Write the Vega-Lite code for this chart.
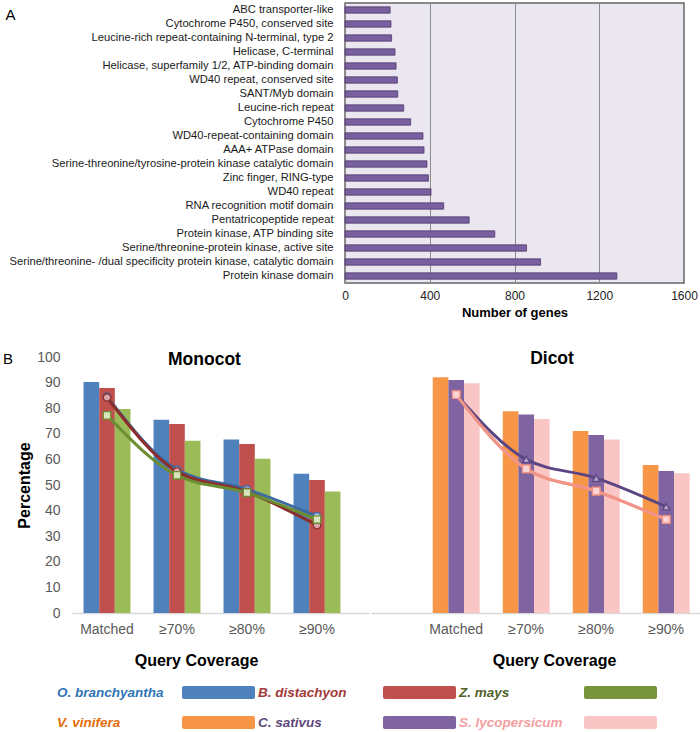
{
  "$schema": "https://vega.github.io/schema/vega-lite/v6.json",
  "padding": {"left": 3, "top": 2, "right": 0, "bottom": 0},
  "config": {"font": "Liberation Sans", "view": {"stroke": null}, "axis": {"ticks": false}},
  "resolve": {"scale": {"color": "independent", "fill": "independent", "stroke": "independent", "shape": "independent"}},
  "datasets": {
    "genes": [
      {"domain": "ABC transporter-like", "genes": 213},
      {"domain": "Cytochrome P450, conserved site", "genes": 217},
      {"domain": "Leucine-rich repeat-containing N-terminal, type 2", "genes": 220},
      {"domain": "Helicase, C-terminal", "genes": 236},
      {"domain": "Helicase, superfamily 1/2, ATP-binding domain", "genes": 241},
      {"domain": "WD40 repeat, conserved site", "genes": 247},
      {"domain": "SANT/Myb domain", "genes": 249},
      {"domain": "Leucine-rich repeat", "genes": 277},
      {"domain": "Cytochrome P450", "genes": 310},
      {"domain": "WD40-repeat-containing domain", "genes": 368},
      {"domain": "AAA+ ATPase domain", "genes": 373},
      {"domain": "Serine-threonine/tyrosine-protein kinase catalytic domain", "genes": 387},
      {"domain": "Zinc finger, RING-type", "genes": 394},
      {"domain": "WD40 repeat", "genes": 406},
      {"domain": "RNA recognition motif domain", "genes": 466},
      {"domain": "Pentatricopeptide repeat", "genes": 586},
      {"domain": "Protein kinase, ATP binding site", "genes": 707},
      {"domain": "Serine/threonine-protein kinase, active site", "genes": 857},
      {"domain": "Serine/threonine- /dual specificity protein kinase, catalytic  domain", "genes": 923},
      {"domain": "Protein kinase domain", "genes": 1283}
    ],
    "bars": [
      {"group": "Monocot", "species": "O. branchyantha", "coverage": "Matched", "pct": 90.2},
      {"group": "Monocot", "species": "B. distachyon", "coverage": "Matched", "pct": 87.9},
      {"group": "Monocot", "species": "Z. mays", "coverage": "Matched", "pct": 79.7},
      {"group": "Monocot", "species": "O. branchyantha", "coverage": "≥70%", "pct": 75.5},
      {"group": "Monocot", "species": "B. distachyon", "coverage": "≥70%", "pct": 73.8},
      {"group": "Monocot", "species": "Z. mays", "coverage": "≥70%", "pct": 67.3},
      {"group": "Monocot", "species": "O. branchyantha", "coverage": "≥80%", "pct": 67.8},
      {"group": "Monocot", "species": "B. distachyon", "coverage": "≥80%", "pct": 66.0},
      {"group": "Monocot", "species": "Z. mays", "coverage": "≥80%", "pct": 60.3},
      {"group": "Monocot", "species": "O. branchyantha", "coverage": "≥90%", "pct": 54.4},
      {"group": "Monocot", "species": "B. distachyon", "coverage": "≥90%", "pct": 52.0},
      {"group": "Monocot", "species": "Z. mays", "coverage": "≥90%", "pct": 47.5},
      {"group": "Dicot", "species": "V. vinifera", "coverage": "Matched", "pct": 92.1},
      {"group": "Dicot", "species": "C. sativus", "coverage": "Matched", "pct": 91.0},
      {"group": "Dicot", "species": "S. lycopersicum", "coverage": "Matched", "pct": 89.7},
      {"group": "Dicot", "species": "V. vinifera", "coverage": "≥70%", "pct": 78.8},
      {"group": "Dicot", "species": "C. sativus", "coverage": "≥70%", "pct": 77.5},
      {"group": "Dicot", "species": "S. lycopersicum", "coverage": "≥70%", "pct": 75.8},
      {"group": "Dicot", "species": "V. vinifera", "coverage": "≥80%", "pct": 71.1},
      {"group": "Dicot", "species": "C. sativus", "coverage": "≥80%", "pct": 69.5},
      {"group": "Dicot", "species": "S. lycopersicum", "coverage": "≥80%", "pct": 67.8},
      {"group": "Dicot", "species": "V. vinifera", "coverage": "≥90%", "pct": 57.8},
      {"group": "Dicot", "species": "C. sativus", "coverage": "≥90%", "pct": 55.5},
      {"group": "Dicot", "species": "S. lycopersicum", "coverage": "≥90%", "pct": 54.6}
    ],
    "lines": [
      {"group": "Monocot", "species": "O. branchyantha", "coverage": "Matched", "pct": 84.5},
      {"group": "Monocot", "species": "O. branchyantha", "coverage": "≥70%", "pct": 56.0},
      {"group": "Monocot", "species": "O. branchyantha", "coverage": "≥80%", "pct": 48.3},
      {"group": "Monocot", "species": "O. branchyantha", "coverage": "≥90%", "pct": 37.8},
      {"group": "Monocot", "species": "B. distachyon", "coverage": "Matched", "pct": 84.2},
      {"group": "Monocot", "species": "B. distachyon", "coverage": "≥70%", "pct": 55.3},
      {"group": "Monocot", "species": "B. distachyon", "coverage": "≥80%", "pct": 47.3},
      {"group": "Monocot", "species": "B. distachyon", "coverage": "≥90%", "pct": 34.3},
      {"group": "Monocot", "species": "Z. mays", "coverage": "Matched", "pct": 77.2},
      {"group": "Monocot", "species": "Z. mays", "coverage": "≥70%", "pct": 53.8},
      {"group": "Monocot", "species": "Z. mays", "coverage": "≥80%", "pct": 47.0},
      {"group": "Monocot", "species": "Z. mays", "coverage": "≥90%", "pct": 36.5},
      {"group": "Dicot", "species": "V. vinifera", "coverage": "Matched", "pct": 85.3},
      {"group": "Dicot", "species": "V. vinifera", "coverage": "≥70%", "pct": 56.3},
      {"group": "Dicot", "species": "V. vinifera", "coverage": "≥80%", "pct": 47.6},
      {"group": "Dicot", "species": "V. vinifera", "coverage": "≥90%", "pct": 36.5},
      {"group": "Dicot", "species": "C. sativus", "coverage": "Matched", "pct": 85.4},
      {"group": "Dicot", "species": "C. sativus", "coverage": "≥70%", "pct": 60.0},
      {"group": "Dicot", "species": "C. sativus", "coverage": "≥80%", "pct": 52.7},
      {"group": "Dicot", "species": "C. sativus", "coverage": "≥90%", "pct": 41.5},
      {"group": "Dicot", "species": "S. lycopersicum", "coverage": "Matched", "pct": 85.3},
      {"group": "Dicot", "species": "S. lycopersicum", "coverage": "≥70%", "pct": 56.3},
      {"group": "Dicot", "species": "S. lycopersicum", "coverage": "≥80%", "pct": 47.6},
      {"group": "Dicot", "species": "S. lycopersicum", "coverage": "≥90%", "pct": 36.5}
    ],
    "legend": [
      {"species": "O. branchyantha", "col": 0, "row": 0},
      {"species": "B. distachyon", "col": 1, "row": 0},
      {"species": "Z. mays", "col": 2, "row": 0},
      {"species": "V. vinifera", "col": 0, "row": 1},
      {"species": "C. sativus", "col": 1, "row": 1},
      {"species": "S. lycopersicum", "col": 2, "row": 1}
    ],
    "empty": []
  },
  "spacing": 17,
  "vconcat": [
    {
      "spacing": 29,
      "vconcat": [
        {
          "spacing": 0,
          "hconcat": [
            {"data": {"name": "empty"}, "width": 1, "height": 280, "mark": "point", "encoding": {}},
            {
              "data": {"name": "genes"},
              "width": 339,
              "height": 280,
              "view": {"fill": "#ebe7f0", "stroke": "#666666", "strokeWidth": 1.5},
              "mark": {"type": "bar", "color": "#7a5fa0", "stroke": "#4e3b6c", "strokeWidth": 0.8},
              "encoding": {
                "y": {
                  "field": "domain", "type": "nominal", "sort": null,
                  "scale": {"paddingInner": 0.55, "paddingOuter": 0.275},
                  "axis": {"title": "A", "titleAngle": 0, "titleX": -340, "titleY": 4, "titleAlign": "left", "titleBaseline": "top", "titleFontSize": 15, "titleFontWeight": "normal", "titleColor": "#000000", "labelFontSize": 11.2, "labelColor": "#1a1a1a", "labelPadding": 12, "labelLimit": 400, "domain": false, "ticks": false}
                },
                "x": {
                  "field": "genes", "type": "quantitative",
                  "scale": {"domain": [0, 1600], "nice": false},
                  "axis": {"values": [0, 400, 800, 1200, 1600], "format": "d", "title": "Number of genes", "titleFontSize": 13, "titleFontWeight": "bold", "titleColor": "#000000", "labelFontSize": 12, "labelColor": "#222222", "labelPadding": 7, "titlePadding": 5, "grid": true, "gridColor": "#8c8c8c", "gridWidth": 1, "domain": false, "ticks": false, "labelFlush": false}
                }
              }
            }
          ]
        },
        {
          "spacing": 2,
          "resolve": {"scale": {"xOffset": "independent", "x": "independent"}},
          "hconcat": [
            {"data": {"name": "empty"}, "width": 1, "height": 256, "mark": "point", "encoding": {},
             "title": {"text": "B", "anchor": "start", "fontSize": 15, "fontWeight": "normal", "offset": -10, "color": "#000000"}},
            {
              "width": 297,
              "height": 256,
              "title": {"text": "Monocot", "fontSize": 17.5, "fontWeight": "bold", "offset": -18, "dx": -16, "color": "#000000"},
              "encoding": {
                "x": {"field": "coverage", "type": "nominal", "sort": ["Matched", "≥70%", "≥80%", "≥90%"],
                  "scale": {"type": "band", "paddingInner": 0.33, "paddingOuter": 0.2864, "align": 0.288},
                  "axis": {"title": "Query Coverage", "titleFontSize": 16, "titleFontWeight": "bold", "titleColor": "#000000", "titleX": 124, "titlePadding": 16, "labelFontSize": 14, "labelColor": "#595959", "labelPadding": 9, "labelAngle": 0, "domainColor": "#d9d9d9", "domainWidth": 1.3, "ticks": false}},
                "y": {"field": "pct", "type": "quantitative", "scale": {"domain": [0, 100], "nice": false},
                  "axis": {"values": [0, 10, 20, 30, 40, 50, 60, 70, 80, 90, 100], "labelOverlap": false, "title": "Percentage", "titleFontSize": 16, "titleFontWeight": "bold", "titleColor": "#000000", "titlePadding": 4, "labelFontSize": 14, "labelColor": "#595959", "labelPadding": 12, "domain": false, "ticks": false, "grid": false}}
              },
              "layer": [
                {
                  "data": {"name": "bars"},
                  "transform": [{"filter": "datum.group === 'Monocot'"}],
                  "mark": {"type": "bar"},
                  "encoding": {
                    "xOffset": {"field": "species", "type": "nominal", "sort": ["O. branchyantha", "B. distachyon", "Z. mays"], "scale": {"paddingInner": 0, "paddingOuter": 0}},
                    "color": {"field": "species", "type": "nominal",
                      "scale": {"domain": ["O. branchyantha", "B. distachyon", "Z. mays", "V. vinifera", "C. sativus", "S. lycopersicum"], "range": ["#4f81bd", "#c0504d", "#9bbb59", "#f79646", "#8064a2", "#f9c5c5"]},
                      "legend": null}
                  }
                },
                {
                  "data": {"name": "lines"},
                  "transform": [{"filter": "datum.group === 'Monocot'"}],
                  "mark": {"type": "line", "interpolate": "monotone", "strokeWidth": 3},
                  "encoding": {
                    "stroke": {"field": "species", "type": "nominal",
                      "scale": {"domain": ["O. branchyantha", "B. distachyon", "Z. mays", "V. vinifera", "C. sativus", "S. lycopersicum"], "range": ["#3b6aa0", "#8c2d2b", "#6b8e32", "#f79646", "#5b4683", "#f0948c"]},
                      "legend": null}
                  }
                },
                {
                  "data": {"name": "lines"},
                  "transform": [{"filter": "datum.group === 'Monocot'"}],
                  "mark": {"type": "point", "filled": true, "size": 55, "strokeWidth": 1.3, "opacity": 1},
                  "encoding": {
                    "fill": {"field": "species", "type": "nominal",
                      "scale": {"domain": ["O. branchyantha", "B. distachyon", "Z. mays", "V. vinifera", "C. sativus", "S. lycopersicum"], "range": ["#b4c6e0", "#d9a6ac", "#d7e4bd", "#fbd4d4", "#b3a2c7", "#fbd4d4"]},
                      "legend": null},
                    "stroke": {"field": "species", "type": "nominal", "legend": null},
                    "shape": {"field": "species", "type": "nominal",
                      "scale": {"domain": ["O. branchyantha", "B. distachyon", "Z. mays", "V. vinifera", "C. sativus", "S. lycopersicum"], "range": ["circle", "circle", "square", "square", "triangle-up", "square"]},
                      "legend": null}
                  }
                }
              ]
            },
            {
              "width": 330,
              "height": 256,
              "title": {"text": "Dicot", "fontSize": 17.5, "fontWeight": "bold", "offset": -10, "dx": 16, "color": "#000000"},
              "encoding": {
                "x": {"field": "coverage", "type": "nominal", "sort": ["Matched", "≥70%", "≥80%", "≥90%"],
                  "scale": {"type": "band", "paddingInner": 0.33, "paddingOuter": 0.522, "align": 0.845},
                  "axis": {"title": "Query Coverage", "titleFontSize": 16, "titleFontWeight": "bold", "titleColor": "#000000", "titleX": 183, "titlePadding": 16, "labelFontSize": 14, "labelColor": "#595959", "labelPadding": 9, "labelAngle": 0, "domainColor": "#d9d9d9", "domainWidth": 1.3, "ticks": false}},
                "y": {"field": "pct", "type": "quantitative", "scale": {"domain": [0, 100], "nice": false}, "axis": null}
              },
              "layer": [
                {
                  "data": {"name": "bars"},
                  "transform": [{"filter": "datum.group === 'Dicot'"}],
                  "mark": {"type": "bar"},
                  "encoding": {
                    "xOffset": {"field": "species", "type": "nominal", "sort": ["V. vinifera", "C. sativus", "S. lycopersicum"], "scale": {"paddingInner": 0, "paddingOuter": 0}},
                    "color": {"field": "species", "type": "nominal",
                      "scale": {"domain": ["O. branchyantha", "B. distachyon", "Z. mays", "V. vinifera", "C. sativus", "S. lycopersicum"], "range": ["#4f81bd", "#c0504d", "#9bbb59", "#f79646", "#8064a2", "#f9c5c5"]},
                      "legend": null}
                  }
                },
                {
                  "data": {"name": "lines"},
                  "transform": [{"filter": "datum.group === 'Dicot'"}],
                  "mark": {"type": "line", "interpolate": "monotone", "strokeWidth": 3},
                  "encoding": {
                    "stroke": {"field": "species", "type": "nominal",
                      "scale": {"domain": ["O. branchyantha", "B. distachyon", "Z. mays", "V. vinifera", "C. sativus", "S. lycopersicum"], "range": ["#3b6aa0", "#8c2d2b", "#6b8e32", "#f79646", "#5b4683", "#f0948c"]},
                      "legend": null}
                  }
                },
                {
                  "data": {"name": "lines"},
                  "transform": [{"filter": "datum.group === 'Dicot'"}],
                  "mark": {"type": "point", "filled": true, "size": 55, "strokeWidth": 1.3, "opacity": 1},
                  "encoding": {
                    "fill": {"field": "species", "type": "nominal",
                      "scale": {"domain": ["O. branchyantha", "B. distachyon", "Z. mays", "V. vinifera", "C. sativus", "S. lycopersicum"], "range": ["#b4c6e0", "#d9a6ac", "#d7e4bd", "#fbd4d4", "#b3a2c7", "#fbd4d4"]},
                      "legend": null},
                    "stroke": {"field": "species", "type": "nominal", "legend": null},
                    "shape": {"field": "species", "type": "nominal",
                      "scale": {"domain": ["O. branchyantha", "B. distachyon", "Z. mays", "V. vinifera", "C. sativus", "S. lycopersicum"], "range": ["circle", "circle", "square", "square", "triangle-up", "square"]},
                      "legend": null}
                  }
                }
              ]
            }
          ]
        }
      ]
    },
    {
      "data": {"name": "legend"},
      "width": 695,
      "height": 45,
      "resolve": {"scale": {"color": "independent", "fill": "independent"}},
      "layer": [
        {
          "mark": {"type": "text", "align": "left", "baseline": "middle", "fontSize": 13.5, "fontWeight": "bold", "fontStyle": "italic"},
          "encoding": {
            "x": {"field": "col", "type": "ordinal", "bandPosition": 0, "scale": {"paddingInner": 0, "paddingOuter": 0.2289, "align": 0.587}, "axis": null},
            "y": {"field": "row", "type": "ordinal", "scale": {"paddingInner": 0.5, "paddingOuter": 0}, "axis": null},
            "text": {"field": "species"},
            "fill": {"field": "species", "type": "nominal",
              "scale": {"domain": ["O. branchyantha", "B. distachyon", "Z. mays", "V. vinifera", "C. sativus", "S. lycopersicum"], "range": ["#2e75b6", "#a33a3a", "#4f6228", "#e46c0a", "#5f497a", "#f4a0a0"]},
              "legend": null}
          }
        },
        {
          "mark": {"type": "bar", "width": 73, "height": 13, "xOffset": 61, "cornerRadius": 2},
          "encoding": {
            "x": {"field": "col", "type": "ordinal"},
            "y": {"field": "row", "type": "ordinal"},
            "color": {"field": "species", "type": "nominal",
              "scale": {"domain": ["O. branchyantha", "B. distachyon", "Z. mays", "V. vinifera", "C. sativus", "S. lycopersicum"], "range": ["#4f81bd", "#c0504d", "#77933c", "#f79646", "#8064a2", "#f9c5c5"]},
              "legend": null}
          }
        }
      ]
    }
  ]
}
